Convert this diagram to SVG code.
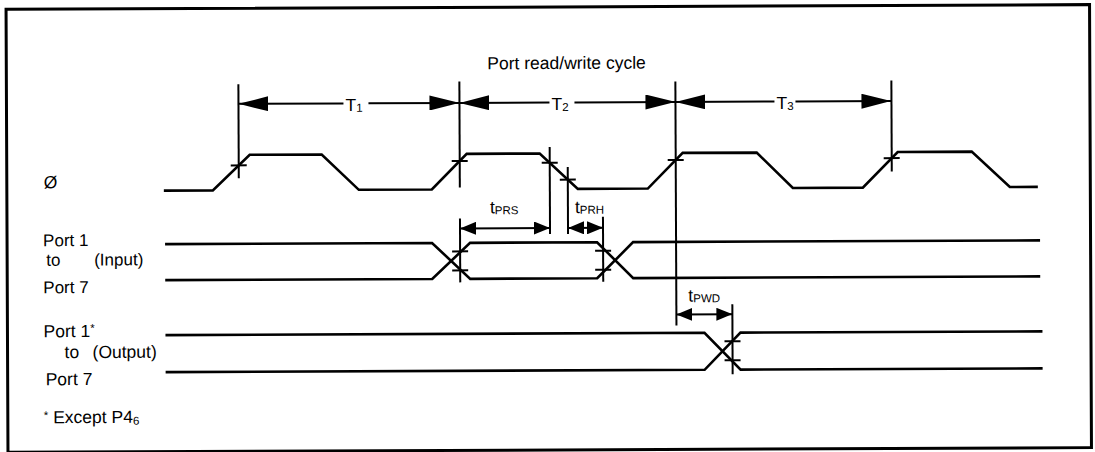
<svg xmlns="http://www.w3.org/2000/svg" width="1095" height="452" viewBox="0 0 1095 452">
<style>
.t{font-family:"Liberation Sans",Arial,sans-serif;font-size:17.5px;fill:#000}
.l{font-size:17px}
.s{font-size:11.5px}
.w{fill:none;stroke:#000;stroke-width:2.6;stroke-linejoin:miter}
.v{fill:none;stroke:#000;stroke-width:2}
.d{fill:none;stroke:#000;stroke-width:2}
</style>
<defs>
<marker id="ab" viewBox="0 0 30 15" refX="30" refY="7.5" markerWidth="30" markerHeight="15" markerUnits="userSpaceOnUse" orient="auto-start-reverse"><path d="M0,0 L30,7.5 L0,15 z" fill="#000"/></marker>
<marker id="as" viewBox="0 0 16 13" refX="16" refY="6.5" markerWidth="16" markerHeight="13" markerUnits="userSpaceOnUse" orient="auto-start-reverse"><path d="M0,0 L16,6.5 L0,13 z" fill="#000"/></marker>
</defs>
<rect width="1095" height="452" fill="#fff"/>
<g transform="rotate(-0.25 547 226)">
<rect id="frame" x="7" y="7" width="1083.5" height="443" fill="none" stroke="#000" stroke-width="3"/>
<g id="title"><text class="t" x="488" y="69">Port read/write cycle</text></g>
<g id="clock">
<text class="t" x="44" y="186">Ø</text>
<polyline class="w" points="164,189 213,189 250,153.5 322,153.5 359,189 432,189 467,153.5 540,153.5 578,189 648,189 683,153.5 757,153.5 793,189 863,189 898,153.5 972,153.5 1010,189 1038,189"/>
</g>
<g id="input-bus">
<text class="t l" x="43" y="244">Port 1</text>
<text class="t l" x="46" y="263.5">to</text>
<text class="t l" x="94" y="263.5">(Input)</text>
<text class="t l" x="43" y="291">Port 7</text>
<polyline class="w" points="165,242.5 432,242.5 470,278.5 597,278.5 633,242.5 1040,242.5"/>
<polyline class="w" points="165,278.5 432,278.5 470,242.5 597,242.5 633,278.5 1040,278.5"/>
</g>
<g id="output-bus">
<text class="t" x="43" y="335">Port 1<tspan class="s" dy="-5">*</tspan></text>
<text class="t" x="64" y="356">to</text>
<text class="t" x="92" y="356">(Output)</text>
<text class="t" x="45" y="383">Port 7</text>
<polyline class="w" points="165,333.5 704,333.5 740,370.5 1042,370.5"/>
<polyline class="w" points="165,370.5 704,370.5 740,333.5 1042,333.5"/>
</g>
<g id="note"><text class="t" x="43" y="421"><tspan class="s" dy="-4">*</tspan><tspan dy="4"> Except P4</tspan><tspan class="s" dy="2">6</tspan></text></g>
<g id="connectors">
<g id="reference-lines">
<line class="v" x1="239" y1="83" x2="239" y2="177"/>
<line class="v" x1="460" y1="81" x2="460" y2="187"/>
<line class="v" x1="460" y1="218" x2="460" y2="282"/>
<line class="v" x1="550" y1="147" x2="550" y2="234"/>
<line class="v" x1="568" y1="167" x2="568" y2="234"/>
<line class="v" x1="603" y1="217" x2="603" y2="282"/>
<line class="v" x1="676" y1="82" x2="676" y2="326"/>
<line class="v" x1="732" y1="305" x2="732" y2="375"/>
<line class="v" x1="892" y1="82" x2="892" y2="173"/>
</g>
<g id="ticks" stroke="#000" stroke-width="2">
<line x1="231" y1="164" x2="247" y2="164"/>
<line x1="452" y1="160.6" x2="468" y2="160.6"/>
<line x1="542" y1="162.8" x2="558" y2="162.8"/>
<line x1="560" y1="179.7" x2="576" y2="179.7"/>
<line x1="668" y1="160.6" x2="684" y2="160.6"/>
<line x1="884" y1="159.6" x2="900" y2="159.6"/>
<line x1="452" y1="251" x2="468" y2="251"/>
<line x1="452" y1="270" x2="468" y2="270"/>
<line x1="595" y1="251" x2="611" y2="251"/>
<line x1="595" y1="270" x2="611" y2="270"/>
<line x1="724" y1="342" x2="740" y2="342"/>
<line x1="724" y1="361" x2="740" y2="361"/>
</g>
<g id="cycle-arrows">
<line class="d" x1="239" y1="102.5" x2="344" y2="102.5" marker-start="url(#ab)"/>
<line class="d" x1="369" y1="102.5" x2="460" y2="102.5" marker-end="url(#ab)"/>
<text class="t" x="346" y="110">T<tspan class="s" dy="1">1</tspan></text>
<line class="d" x1="460" y1="102.5" x2="550" y2="102.5" marker-start="url(#ab)"/>
<line class="d" x1="575" y1="102.5" x2="676" y2="102.5" marker-end="url(#ab)"/>
<text class="t" x="552" y="110">T<tspan class="s" dy="1">2</tspan></text>
<line class="d" x1="676" y1="102.5" x2="775" y2="102.5" marker-start="url(#ab)"/>
<line class="d" x1="796" y1="102.5" x2="892" y2="102.5" marker-end="url(#ab)"/>
<text class="t" x="777" y="110">T<tspan class="s" dy="1">3</tspan></text>
</g>
<g id="timing-arrows">
<line class="d" x1="460" y1="228" x2="550" y2="228" marker-start="url(#as)" marker-end="url(#as)"/>
<text class="t" x="490" y="213">t<tspan class="s" dy="1">PRS</tspan></text>
<line class="d" x1="568" y1="228" x2="603" y2="228" marker-start="url(#as)" marker-end="url(#as)"/>
<text class="t" x="575" y="213">t<tspan class="s" dy="1">PRH</tspan></text>
<line class="d" x1="676" y1="315" x2="732" y2="315" marker-start="url(#as)" marker-end="url(#as)"/>
<text class="t" x="688" y="302">t<tspan class="s" dy="1">PWD</tspan></text>
</g>
</g>
</g>
</svg>
